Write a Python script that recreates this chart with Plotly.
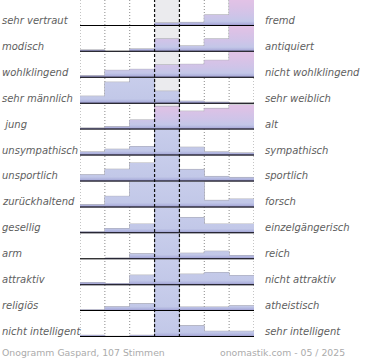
import plotly.graph_objects as go
from plotly.subplots import make_subplots

# ---- data ----
left_labels = ["sehr vertraut", "modisch", "wohlklingend", "sehr männlich", " jung",
               "unsympathisch", "unsportlich", "zurückhaltend", "gesellig", "arm",
               "attraktiv", "religiös", "nicht intelligent"]
right_labels = ["fremd", "antiquiert", "nicht wohlklingend", "sehr weiblich", "alt",
                "sympathisch", "sportlich", "forsch", "einzelgängerisch", "reich",
                "nicht attraktiv", "atheistisch", "sehr intelligent"]
# seven answer bins per row (left pole -> right pole), share of votes in %
row_values = [
    [0, 0, 0, 3, 3.5, 11, 82],
    [1.9, 0.5, 2.9, 12.9, 5.9, 12.9, 63],
    [2.1, 7.4, 8.4, 12.8, 13.4, 17.4, 38],
    [7.5, 21.5, 54, 12.5, 2.5, 1.5, 0.5],
    [1.6, 2.9, 9.6, 23.2, 18.4, 21.2, 24.6],
    [3.6, 6.3, 9, 66, 8.3, 3.6, 2.6],
    [6.7, 12.2, 18.4, 42, 12, 5, 4],
    [2.7, 11, 30, 36, 29, 7, 8.3],
    [1.5, 4.8, 9.2, 50, 15.8, 9.2, 9.2],
    [0, 1.2, 5.5, 75, 6, 8, 3.7],
    [2.6, 1.6, 10, 52, 11, 12.6, 9.6],
    [1.2, 4.3, 7.4, 74, 4, 4, 5.3],
    [1.7, 0.7, 1.7, 73, 11.3, 5.7, 5.7],
]
bins = [0, 1, 2, 3, 4, 5, 6]
footer_left = "Onogramm Gaspard, 107 Stimmen"
footer_right = "onomastik.com - 05 / 2025"

# ---- styling ----
W, H = 370, 360
ML, MR, MT, MB = 80, 116, 0, 23
PW = W - ML - MR
PH = H - MT - MB
CAP = 25.9                     # visible maximum of one row
pink_rows = {0, 1, 2, 4}
scale_pink = [[0, "#9189c4"], [0.08, "#aeb0dc"], [0.18, "#c3c7e8"],
              [0.4, "#cec4e8"], [0.75, "#dbc2e6"], [1, "#e2c2e6"]]
scale_blue = [[0, "#9189c4"], [0.08, "#aeb2dd"], [0.18, "#c2c8e8"],
              [1, "#c8cdeb"]]
label_font = dict(family="DejaVu Sans", size=10, color="#5e5e5e", style="italic")
foot_font = dict(family="DejaVu Sans", size=9.3, color="#ababab")

n = len(row_values)
fig = make_subplots(rows=n, cols=1, shared_xaxes=True, vertical_spacing=0)

for i, vals in enumerate(row_values):
    r = i + 1
    xs = bins + [len(bins)]
    ys = list(vals) + [vals[-1]]
    fig.add_trace(go.Scatter(
        x=xs, y=ys, mode="lines", line=dict(width=0, shape="hv"),
        fill="tozeroy",
        fillgradient=dict(type="vertical", start=0, stop=CAP,
                          colorscale=scale_pink if i in pink_rows else scale_blue),
        hoverinfo="skip", showlegend=False), row=r, col=1)
    fig.add_trace(go.Bar(
        x=[b + 0.5 for b in bins], y=vals, width=1,
        marker=dict(color="rgba(0,0,0,0)", line=dict(color="#a2a2ac", width=1)),
        hoverinfo="skip", showlegend=False), row=r, col=1)

for r in range(1, n + 1):
    fig.update_xaxes(range=[0, 7], showgrid=False, zeroline=False, showticklabels=False,
                     ticks="", showline=False, fixedrange=True, row=r, col=1)
    fig.update_yaxes(range=[0, CAP], showgrid=False, zeroline=False, showticklabels=False,
                     ticks="", showline=False, fixedrange=True, row=r, col=1)

shapes = []
# centre bin background
shapes.append(dict(type="rect", xref="x", yref="paper", x0=3, x1=4, y0=0, y1=1,
                   fillcolor="#ebebee", line=dict(width=0), layer="below"))
# dotted bin boundaries
for b in [0, 1, 2, 5, 6, 7]:
    shapes.append(dict(type="line", xref="x", yref="paper", x0=b, x1=b, y0=0, y1=1,
                       line=dict(color="#8a8a8a", width=1, dash="1px,2px"), layer="below"))
# dashed centre boundaries
for b in [3, 4]:
    shapes.append(dict(type="line", xref="x", yref="paper", x0=b, x1=b, y0=0, y1=1,
                       line=dict(color="#111111", width=1.2, dash="3px,2px"), layer="above"))
# row baselines with a soft shadow
for r in range(1, n + 1):
    yr = "y" if r == 1 else f"y{r}"
    shapes.append(dict(type="line", xref="paper", yref=yr, x0=0, x1=1,
                       ysizemode="pixel", yanchor=0, y0=-2.5, y1=-2.5,
                       line=dict(color="#c9c9c9", width=1), layer="above"))
    shapes.append(dict(type="line", xref="paper", yref=yr, x0=0, x1=1, y0=0, y1=0,
                       line=dict(color="#000000", width=2), layer="above"))

annotations = []
lx = (0 - ML) / PW
rx = (263 - ML) / PW
for i in range(n):
    r = i + 1
    yd = "y domain" if r == 1 else f"y{r} domain"
    annotations.append(dict(text=left_labels[i], xref="paper", yref=yd, x=lx, y=0,
                            xanchor="left", yanchor="bottom", yshift=-2, showarrow=False,
                            font=label_font))
    annotations.append(dict(text=right_labels[i], xref="paper", yref=yd, x=rx, y=0,
                            xanchor="left", yanchor="bottom", yshift=-2, showarrow=False,
                            font=label_font))
annotations.append(dict(text=footer_left, xref="paper", yref="paper", x=lx,
                        y=(PH - (352 - MT)) / PH, xanchor="left", yanchor="middle",
                        showarrow=False, font=foot_font))
annotations.append(dict(text=footer_right, xref="paper", yref="paper", x=(347 - ML) / PW,
                        y=(PH - (352 - MT)) / PH, xanchor="right", yanchor="middle",
                        showarrow=False, font=foot_font))

fig.update_layout(width=W, height=H, margin=dict(l=ML, r=MR, t=MT, b=MB),
                  paper_bgcolor="white", plot_bgcolor="rgba(0,0,0,0)",
                  barmode="overlay", showlegend=False,
                  shapes=shapes, annotations=annotations)

fig.write_html("out.html", config={"displayModeBar": False},
               post_script="document.body.style.margin='0';")
